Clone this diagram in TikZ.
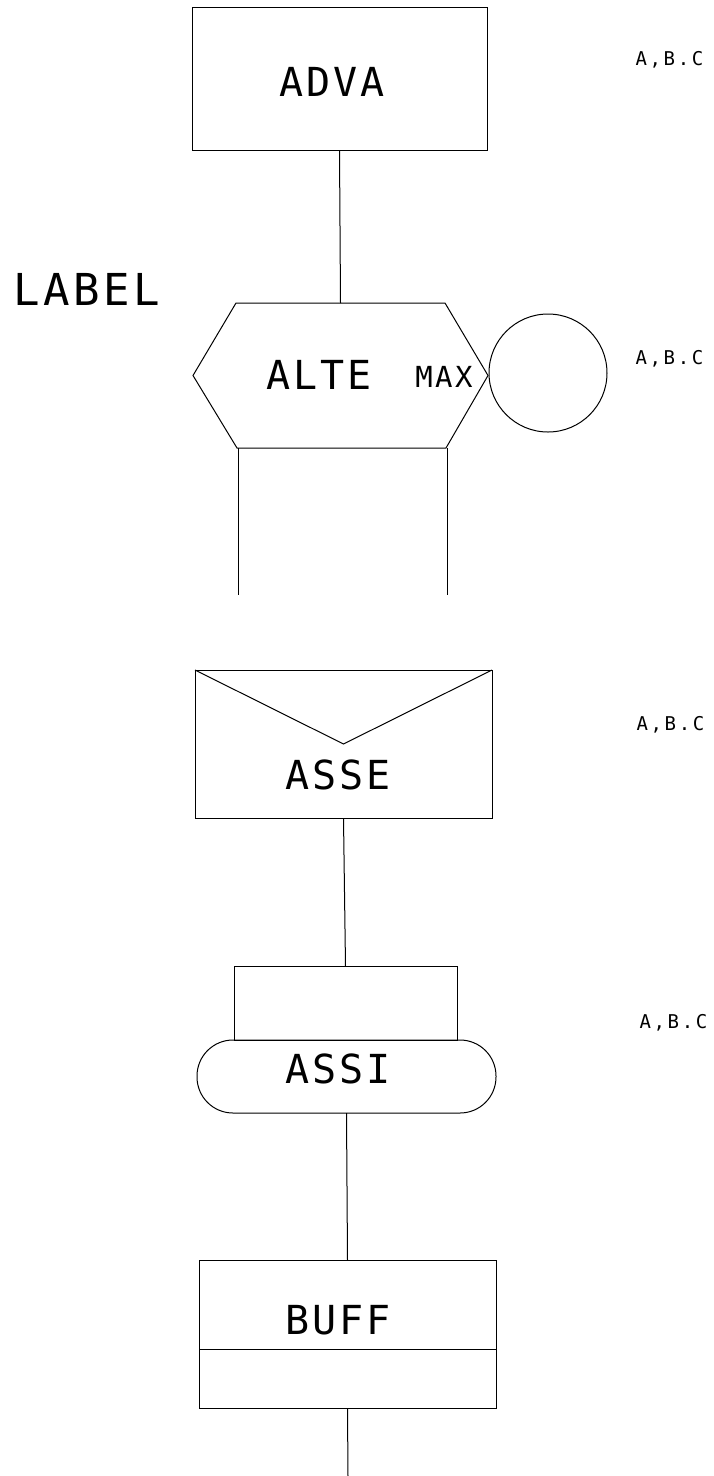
\documentclass[tikz,border=0pt]{standalone}
\usepackage{fontspec}
\newfontfamily\plotbig[LetterSpace=8]{DejaVu Sans Mono}
\newfontfamily\plotsmall[LetterSpace=14]{DejaVu Sans Mono}
\begin{document}
\begin{tikzpicture}[x=1pt,y=-1pt,
  line width=1pt,
  box/.style={draw, rectangle, inner sep=0pt, outer sep=0pt},
  ghost/.style={rectangle, inner sep=0pt, outer sep=0pt},
  bigtxt/.style={inner sep=0pt, text depth=0pt, font=\plotbig\fontsize{40}{40}\selectfont},
  midtxt/.style={inner sep=0pt, text depth=0pt, font=\plotbig\fontsize{29}{29}\selectfont},
  smalltxt/.style={inner sep=0pt, text depth=0pt, anchor=west, font=\plotsmall\fontsize{19}{19}\selectfont}
]
\fill[white] (0,0) rectangle (713,1476);
\useasboundingbox (0,0) rectangle (713,1476);

% ADVA
\node[box, minimum width=295pt, minimum height=143pt] (adva) at (339.5,78.5) {};
\node[bigtxt] (advat) at (332,82) {ADVA};
\node[smalltxt] (abc1) at (635,58) {A,B.C};

% LABEL
\node[bigtxt, font=\plotbig\fontsize{44}{44}\selectfont, anchor=west] (lab) at (13,289) {LABEL};

% hexagon ALTE
\node[ghost, minimum width=295pt, minimum height=145pt] (hex) at (340.5,375.5) {};
\draw ([xshift=43pt]hex.north west) -- ([xshift=-43pt]hex.north east) -- (hex.east)
  -- ([xshift=-42pt]hex.south east) -- ([xshift=44pt]hex.south west) -- (hex.west) -- cycle;
\node[bigtxt] (altet) at (319,375) {ALTE};
\node[midtxt] (maxt) at (444,377) {MAX};
\node[draw, circle, minimum size=118pt, inner sep=0pt, outer sep=0pt] (conn) at (548,373) {};
\node[smalltxt] (abc2) at (635,357) {A,B.C};
\draw (adva.south) -- (hex.north);
\coordinate (legL) at (238,595);
\coordinate (legR) at (447,595);
\draw ([xshift=45pt]hex.south west) -- (legL);
\draw ([xshift=-41pt]hex.south east) -- (legR);

% ASSE envelope
\node[box, minimum width=297pt, minimum height=148pt] (asse) at (343.5,744) {};
\draw (asse.north west) -- (asse.center) -- (asse.north east);
\node[bigtxt] (asset) at (338,775) {ASSE};
\node[smalltxt] (abc3) at (636,723) {A,B.C};

% ASSI
\node[box, minimum width=223pt, minimum height=74pt] (assir) at (345.5,1003) {};
\node[draw, rectangle, rounded corners=36pt, inner sep=0pt, outer sep=0pt,
      minimum width=299pt, minimum height=73pt] (assi) at (346.5,1076.5) {};
\node[bigtxt] (assit) at (338,1069) {ASSI};
\node[smalltxt] (abc4) at (639,1021) {A,B.C};
\draw (asse.south) -- (assir.north);

% BUFF
\node[box, minimum width=297pt, minimum height=148pt] (buff) at (347.5,1334) {};
\draw ([yshift=-89pt]buff.north west) -- ([yshift=-89pt]buff.north east);
\node[bigtxt] (bufft) at (338,1320) {BUFF};
\draw (assi.south) -- (buff.north);
\coordinate (tail) at (348,1476);
\draw (buff.south) -- (tail);
\end{tikzpicture}
\end{document}
